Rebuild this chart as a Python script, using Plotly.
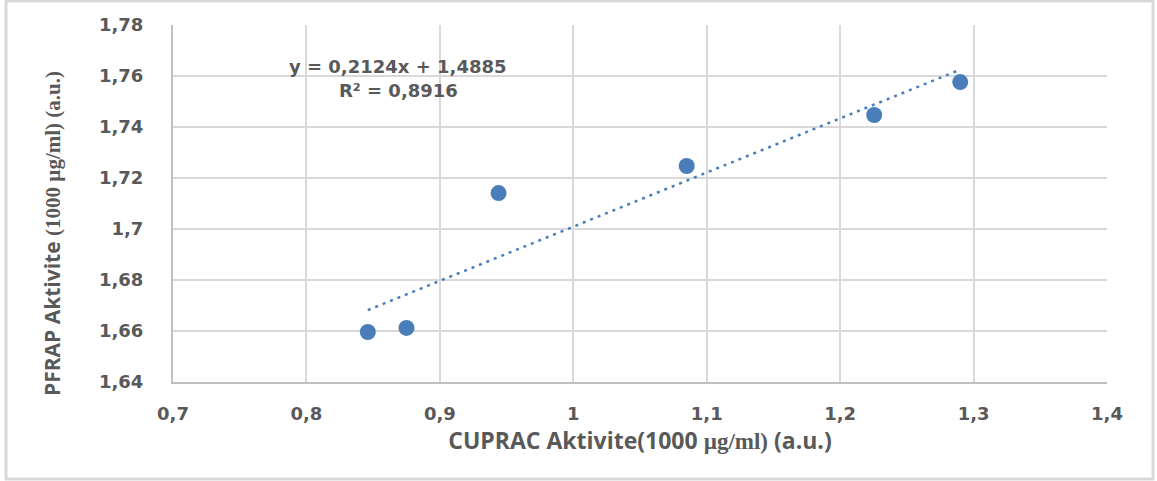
import plotly.graph_objects as go

cuprac = [0.846, 0.875, 0.944, 1.085, 1.2255, 1.290]
pfrap = [1.6596, 1.6612, 1.7141, 1.7247, 1.7447, 1.7576]

slope = 0.2124
intercept = 1.4885
eq_label = "y = 0,2124x + 1,4885"
r2_label = "R² = 0,8916"
y_title = "PFRAP Aktivite <span style=\"font-family:'Liberation Serif'\">(1000 µg/ml) (a.u.)</span>"
x_title = "CUPRAC Aktivite(1000 <span style=\"font-family:'Liberation Serif'\">µg/ml)</span> (a.u.)"

x_ticks = [0.7, 0.8, 0.9, 1.0, 1.1, 1.2, 1.3, 1.4]
x_ticktext = ["0,7", "0,8", "0,9", "1", "1,1", "1,2", "1,3", "1,4"]
y_ticks = [1.64, 1.66, 1.68, 1.70, 1.72, 1.74, 1.76, 1.78]
y_ticktext = ["1,64", "1,66", "1,68", "1,7", "1,72", "1,74", "1,76", "1,78"]

blue = "#4A7EBB"
gray = "#595959"
grid = "#D9D9D9"

xs = [min(cuprac), max(cuprac)]
trend = [slope * v + intercept for v in xs]

fig = go.Figure()
fig.add_trace(go.Scatter(x=xs, y=trend, mode="lines",
                         line=dict(color=blue, width=2.5, dash="3px,5px"),
                         hoverinfo="skip", showlegend=False))
fig.add_trace(go.Scatter(x=cuprac, y=pfrap, mode="markers",
                         marker=dict(color=blue, size=16, line=dict(width=0)),
                         showlegend=False))

tickfont = dict(family="DejaVu Sans", size=18, color=gray, weight="bold")
annfont = dict(family="DejaVu Sans", size=18, color=gray, weight="bold")

fig.update_layout(
    width=1157, height=481,
    margin=dict(l=173, r=50, t=25, b=99),
    paper_bgcolor="white", plot_bgcolor="white",
    xaxis=dict(range=[0.7, 1.4], tickvals=x_ticks, ticktext=x_ticktext,
               showgrid=True, gridcolor=grid, gridwidth=2, zeroline=False,
               showline=True, linecolor="#BFBFBF", linewidth=2,
               ticks="", ticklabelstandoff=14, tickfont=tickfont,
               title=dict(text=x_title,
                          font=dict(family="Open Sans", size=23, color=gray, weight="bold"),
                          standoff=6)),
    yaxis=dict(range=[1.64, 1.78], tickvals=y_ticks, ticktext=y_ticktext,
               showgrid=True, gridcolor=grid, gridwidth=2, zeroline=False,
               showline=True, linecolor="#BFBFBF", linewidth=2,
               ticks="", ticklabelstandoff=24, tickfont=tickfont),
    shapes=[dict(type="rect", xref="paper", yref="paper",
                 x0=(6 - 173) / 934, x1=(1153 - 173) / 934,
                 y0=(382 - 479) / 357, y1=(382 - 1) / 357,
                 line=dict(color=grid, width=3), layer="below")],
    annotations=[
        dict(x=0.8687, y=1.7639, xref="x", yref="y", text=eq_label, showarrow=False,
             font=annfont),
        dict(x=0.8687, y=1.7545, xref="x", yref="y", text=r2_label, showarrow=False,
             font=annfont),
        dict(x=(52 - 173) / 934, y=(382 - 234) / 357, xref="paper", yref="paper",
             text=y_title, textangle=-90, showarrow=False,
             xanchor="center", yanchor="middle",
             font=dict(family="Open Sans", size=21, color=gray, weight="bold")),
    ],
)

fig.write_html("out.html")
